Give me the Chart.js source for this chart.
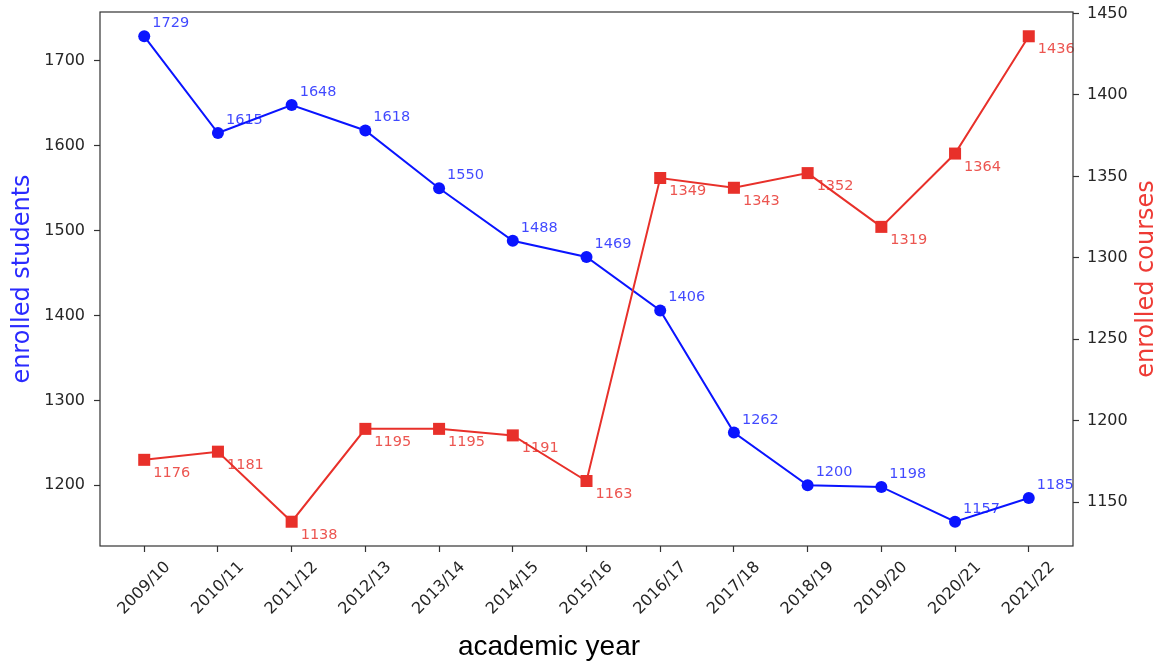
<!DOCTYPE html>
<html>
<head>
<meta charset="utf-8">
<script src="https://cdn.jsdelivr.net/npm/chart.js@4.4.1/dist/chart.umd.min.js"></script>
<style>
  body { margin: 0; background: #fff; }
  #wrap { width: 1166px; height: 662px; }
</style>
</head>
<body>
<div id="wrap"><canvas id="chart"></canvas></div>
<script>
// academic years and the two series
const years = ['2009/10', '2010/11', '2011/12', '2012/13', '2013/14', '2014/15', '2015/16',
               '2016/17', '2017/18', '2018/19', '2019/20', '2020/21', '2021/22'];
const students = [1729, 1615, 1648, 1618, 1550, 1488, 1469, 1406, 1262, 1200, 1198, 1157, 1185];
const courses = [1176, 1181, 1138, 1195, 1195, 1191, 1163, 1349, 1343, 1352, 1319, 1364, 1436];

const studentTicks = [1200, 1300, 1400, 1500, 1600, 1700];
const courseTicks = [1150, 1200, 1250, 1300, 1350, 1400, 1450];

const BLUE = '#0a14ff';
const RED = '#e8302a';
const TICK = '#262626';

// matplotlib-style 5% margins
function padRange(vals, m) {
  const lo = Math.min(...vals), hi = Math.max(...vals);
  const d = (hi - lo) * m;
  return [lo - d, hi + d];
}
const [sMin, sMax] = padRange(students, 0.05);
const [cMin, cMax] = padRange(courses, 0.05);

const fixedTicks = list => scale => { scale.ticks = list.map(v => ({ value: v })); };
// fixed axis width, and no extra room for half tick labels
const fixWidth = w => s => { s.width = w; s.paddingTop = 0; s.paddingBottom = 0; };

// value labels next to each point
const annotate = {
  id: 'annotate',
  afterDatasetsDraw(chart) {
    const ctx = chart.ctx;
    ctx.save();
    ctx.font = '14.5px "DejaVu Sans"';
    ctx.textAlign = 'left';
    ctx.textBaseline = 'alphabetic';
    chart.data.datasets.forEach((ds, i) => {
      const meta = chart.getDatasetMeta(i);
      const above = ds.yAxisID === 'y';
      ctx.fillStyle = above ? 'rgba(10,20,255,0.78)' : 'rgba(232,48,42,0.82)';
      meta.data.forEach((pt, j) => {
        const dx = above ? 8 : 9;
        const dy = above ? -9 : 17;
        ctx.fillText(String(ds.data[j].y), pt.x + dx, pt.y + dy);
      });
    });
    ctx.restore();
  },
  afterDraw(chart) {
    const ctx = chart.ctx;
    const a = chart.chartArea;
    ctx.save();
    // axes frame
    ctx.strokeStyle = '#333';
    ctx.lineWidth = 1.2;
    ctx.strokeRect(a.left, a.top, a.right - a.left, a.bottom - a.top);

    // rotated x tick labels, centred under each tick
    const xs = chart.scales.x;
    ctx.fillStyle = TICK;
    ctx.font = '16px "DejaVu Sans"';
    ctx.textAlign = 'center';
    ctx.textBaseline = 'middle';
    xs.ticks.forEach(t => {
      const label = years[t.value];
      const x = xs.getPixelForValue(t.value);
      const w = ctx.measureText(label).width;
      const side = (w + 19) * Math.SQRT1_2;
      ctx.save();
      ctx.translate(x, a.bottom + 12 + side / 2);
      ctx.rotate(-Math.PI / 4);
      ctx.fillText(label, 0, 0);
      ctx.restore();
    });

    // axis titles
    const midY = (a.top + a.bottom) / 2;
    ctx.font = '24px "DejaVu Sans"';
    ctx.fillStyle = '#2a2aff';
    ctx.save();
    ctx.translate(23, midY);
    ctx.rotate(-Math.PI / 2);
    ctx.fillText('enrolled students', 0, 0);
    ctx.restore();

    ctx.fillStyle = '#ee3a34';
    ctx.save();
    ctx.translate(1147, midY);
    ctx.rotate(-Math.PI / 2);
    ctx.fillText('enrolled courses', 0, 0);
    ctx.restore();

    ctx.fillStyle = '#000';
    ctx.font = '28px "Liberation Sans", Arial, sans-serif';
    ctx.textBaseline = 'alphabetic';
    ctx.fillText('academic year', 549, 655);
    ctx.restore();
  }
};

const tickFont = { family: 'DejaVu Sans', size: 16 };

new Chart(document.getElementById('chart'), {
  type: 'line',
  data: {
    datasets: [
      {
        label: 'enrolled courses',
        data: courses.map((v, i) => ({ x: i, y: v })),
        yAxisID: 'y2',
        borderColor: RED,
        backgroundColor: RED,
        borderWidth: 2,
        pointStyle: 'rect',
        pointRadius: 8.5,
        pointBorderWidth: 0,
        tension: 0,
        order: 0
      },
      {
        label: 'enrolled students',
        data: students.map((v, i) => ({ x: i, y: v })),
        yAxisID: 'y',
        borderColor: BLUE,
        backgroundColor: BLUE,
        borderWidth: 2,
        pointStyle: 'circle',
        pointRadius: 6,
        pointBorderWidth: 0,
        tension: 0,
        order: 1
      }
    ]
  },
  options: {
    responsive: true,
    maintainAspectRatio: false,
    animation: false,
    devicePixelRatio: 1,
    layout: { padding: { top: 12, left: 0, right: 0, bottom: 0 } },
    plugins: { legend: { display: false }, tooltip: { enabled: false } },
    scales: {
      x: {
        type: 'linear',
        min: -0.6,
        max: years.length - 1 + 0.6,
        afterBuildTicks: fixedTicks(years.map((_, i) => i)),
        afterFit: s => { s.height = 116; },
        border: { display: false },
        grid: { drawOnChartArea: false, drawTicks: true, tickLength: 6, color: '#333', tickWidth: 1.2 },
        ticks: { display: false }
      },
      y: {
        position: 'left',
        min: sMin,
        max: sMax,
        afterBuildTicks: fixedTicks(studentTicks),
        afterFit: fixWidth(100),
        border: { display: false },
        grid: { drawOnChartArea: false, tickLength: 6, color: '#333', tickWidth: 1.2 },
        ticks: { color: TICK, padding: 9, font: tickFont, callback: v => String(v) }
      },
      y2: {
        position: 'right',
        min: cMin,
        max: cMax,
        afterBuildTicks: fixedTicks(courseTicks),
        afterFit: fixWidth(93),
        border: { display: false },
        grid: { drawOnChartArea: false, tickLength: 6, color: '#333', tickWidth: 1.2 },
        ticks: { color: TICK, padding: 8, font: tickFont, callback: v => String(v) }
      }
    }
  },
  plugins: [annotate]
});
</script>
</body>
</html>
